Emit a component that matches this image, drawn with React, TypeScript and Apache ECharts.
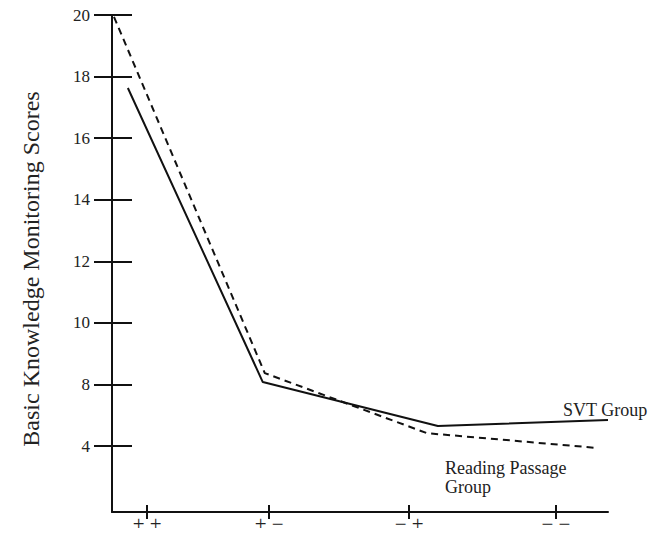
import React, { useEffect, useRef } from "react";
import * as echarts from "echarts";

// Category ticks along the horizontal axis (position on a 0–10 condition scale)
const categories = ["+ +", "+ −", "− +", "− −"];
const categoryPositions = [0.71, 3.17, 5.99, 8.95];

// Vertical axis ticks as printed in the figure
const yTickValues = [6, 8, 10, 12, 14, 16, 18, 20];
const yTickLabels = ["4", "8", "10", "12", "14", "16", "18", "20"];

// Series (x on the condition scale, y = score)
const svtX = [0.32, 3.04, 6.57, 10.0];
const svtY = [17.63, 8.08, 6.65, 6.85];
const readingX = [0.04, 3.08, 6.35, 9.78];
const readingY = [19.94, 8.37, 6.42, 5.94];

const FONT = "Liberation Serif";

export default function App() {
  const ref = useRef<HTMLDivElement>(null);
  useEffect(() => {
    if (!ref.current) return;
    const chart = echarts.init(ref.current, undefined, { renderer: "svg" });
    const yMin = 3.86;
    const yMax = 20;
    const axisColor = "#111";
    const baseY = {
      type: "value" as const,
      min: yMin,
      max: yMax,
      splitLine: { show: false },
    };
    const baseX = {
      type: "value" as const,
      min: 0,
      max: 10,
      splitLine: { show: false },
    };
    chart.setOption({
      animation: false,
      backgroundColor: "#fff",
      grid: { left: 112, right: 50, top: 15, bottom: 24, containLabel: false },
      xAxis: [
        {
          ...baseX,
          axisLine: { show: true, lineStyle: { color: axisColor, width: 2 } },
          axisTick: {
            show: true,
            customValues: categoryPositions,
            length: 7,
            lineStyle: { color: axisColor, width: 2 },
          },
          axisLabel: {
            show: true,
            customValues: categoryPositions,
            formatter: (v: number) => {
              const i = categoryPositions.findIndex((p) => Math.abs(p - v) < 1e-6);
              return i >= 0 ? categories[i] : "";
            },
            margin: 1,
            color: "#222",
            fontFamily: FONT,
            fontSize: 21,
          },
        },
        {
          ...baseX,
          position: "bottom",
          axisLine: { show: false },
          axisTick: {
            show: true,
            inside: true,
            customValues: categoryPositions,
            length: 7,
            lineStyle: { color: axisColor, width: 2 },
          },
          axisLabel: { show: false },
        },
      ],
      yAxis: [
        {
          ...baseY,
          axisLine: { show: true, lineStyle: { color: axisColor, width: 2 } },
          axisTick: {
            show: true,
            customValues: yTickValues,
            length: 18,
            lineStyle: { color: axisColor, width: 2 },
          },
          axisLabel: {
            show: true,
            customValues: yTickValues,
            formatter: (v: number) => {
              const i = yTickValues.findIndex((p) => Math.abs(p - v) < 1e-6);
              return i >= 0 ? yTickLabels[i] : "";
            },
            margin: 22,
            color: "#222",
            fontFamily: FONT,
            fontSize: 17,
          },
        },
        {
          ...baseY,
          position: "left",
          axisLine: { show: false },
          axisTick: {
            show: true,
            inside: true,
            customValues: yTickValues,
            length: 20,
            lineStyle: { color: axisColor, width: 2 },
          },
          axisLabel: { show: false },
        },
      ],
      series: [
        {
          name: "SVT Group",
          type: "line",
          xAxisIndex: 0,
          yAxisIndex: 0,
          data: svtX.map((x, i) => [x, svtY[i]]),
          showSymbol: false,
          symbol: "none",
          lineStyle: { color: "#111", width: 2, type: "solid" },
          clip: false,
        },
        {
          name: "Reading Passage Group",
          type: "line",
          xAxisIndex: 0,
          yAxisIndex: 0,
          data: readingX.map((x, i) => [x, readingY[i]]),
          showSymbol: false,
          symbol: "none",
          lineStyle: { color: "#111", width: 2, type: [7, 5] },
          clip: false,
        },
      ],
      graphic: [
        {
          type: "text",
          x: 31,
          y: 269,
          rotation: Math.PI / 2,
          style: {
            text: "Basic Knowledge Monitoring Scores",
            fill: "#222",
            font: `24px "${FONT}"`,
            align: "center",
            verticalAlign: "middle",
          },
        },
        {
          type: "text",
          left: 563,
          top: 401,
          style: {
            text: "SVT Group",
            fill: "#222",
            font: `18px "${FONT}"`,
          },
        },
        {
          type: "text",
          left: 445,
          top: 458,
          style: {
            text: "Reading Passage\nGroup",
            fill: "#222",
            font: `18px "${FONT}"`,
            lineHeight: 19,
          },
        },
      ],
    });
    return () => chart.dispose();
  }, []);
  return <div ref={ref} style={{ width: 658, height: 536, margin: -8 }} />;
}
